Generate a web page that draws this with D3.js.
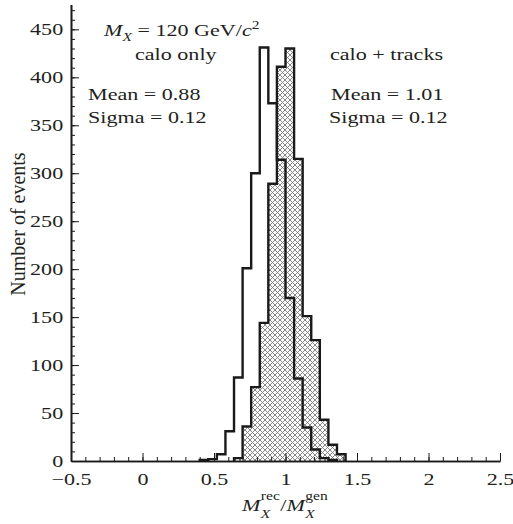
<!DOCTYPE html>
<html>
<head>
<meta charset="utf-8">
<script src="https://cdn.jsdelivr.net/npm/d3@7"></script>
<style>
  body { margin: 0; background: #fff; }
  svg { display: block; }
  text { font-family: "Liberation Serif", "Times New Roman", serif; fill: #231f20; }
</style>
</head>
<body>
<div id="chart"></div>
<script>
// data
const binStarts = [0.40, 0.46, 0.52, 0.58, 0.64, 0.70, 0.76, 0.82, 0.88, 0.94,
                   1.00, 1.06, 1.12, 1.18, 1.24, 1.30, 1.36];
const binWidth = 0.06;
const caloOnly   = [1, 2, 7, 31, 87, 201, 300, 431, 373, 314, 170, 86, 35, 12, 3, 1, 0];
const caloTracks = [0, 0, 0, 0, 3, 36, 77, 144, 289, 411, 430, 315, 151, 126, 43, 17, 7];
const xMajorTicks = [-0.5, 0, 0.5, 1, 1.5, 2, 2.5];
const yMajorTicks = [0, 50, 100, 150, 200, 250, 300, 350, 400, 450];
const labelsLeft  = ['calo only', 'Mean = 0.88', 'Sigma = 0.12'];
const labelsRight = ['calo + tracks', 'Mean = 1.01', 'Sigma = 0.12'];

// layout
const [width, height] = [513, 524];
const stretch = 1.3;   // the printed figure's glyphs are wide
const fontSize = 17;
const ink = '#1a1a1a';

const svg = d3.select('#chart').append('svg')
  .attr('width', width)
  .attr('height', height);

const defs = svg.append('defs');
const hatch = defs.append('pattern')
  .attr('id', 'hatch')
  .attr('patternUnits', 'userSpaceOnUse')
  .attr('width', 5)
  .attr('height', 5);
hatch.append('rect').attr('width', 5).attr('height', 5).attr('fill', '#fff');
hatch.append('path')
  .attr('d', 'M-1,-1L6,6M4,-1L6,1M-1,4L1,6M6,-1L-1,6M1,-1L-1,1M6,4L4,6')
  .attr('stroke', '#7a7a7a')
  .attr('stroke-width', 0.9);

const x = d3.scaleLinear().domain([-0.5, 2.5]).range([71, 500]);
const y = d3.scaleLinear().domain([0, 476]).range([461, 4.4]);

// histogram outline as a step path
const stepPoints = (values) => {
  let first = values.findIndex((v) => v > 0);
  let last = values.length - 1;
  while (values[last] === 0) last--;
  const pts = [[binStarts[first], 0]];
  for (let i = first; i <= last; i++) {
    pts.push([binStarts[i], values[i]]);
    pts.push([binStarts[i] + binWidth, values[i]]);
  }
  pts.push([binStarts[last] + binWidth, 0]);
  return pts;
};

const line = d3.line().x((d) => x(d[0])).y((d) => y(d[1]));

// calo + tracks: hatched
svg.append('path')
  .attr('d', line(stepPoints(caloTracks)) + 'Z')
  .attr('fill', 'url(#hatch)')
  .attr('stroke', 'none');
svg.append('path')
  .attr('d', line(stepPoints(caloTracks)))
  .attr('fill', 'none')
  .attr('stroke', ink)
  .attr('stroke-width', 2.4)
  .attr('stroke-linejoin', 'miter');

// calo only: open
svg.append('path')
  .attr('d', line(stepPoints(caloOnly)))
  .attr('fill', 'none')
  .attr('stroke', ink)
  .attr('stroke-width', 2.4)
  .attr('stroke-linejoin', 'miter');

// axes
const styleAxis = (g) => {
  g.select('.domain').attr('stroke', ink).attr('stroke-width', 1.6);
  g.selectAll('.tick line').attr('stroke', ink).attr('stroke-width', 1);
  g.selectAll('.tick text')
    .attr('font-family', '"Liberation Serif", serif')
    .attr('font-size', fontSize)
    .attr('fill', '#231f20');
};

// minor ticks
svg.append('g')
  .attr('transform', `translate(0,${y(0)})`)
  .call(d3.axisBottom(x).tickValues(d3.range(-5, 26).map((i) => i / 10))
    .tickSizeInner(-4).tickSizeOuter(0).tickFormat(''))
  .call(styleAxis);
svg.append('g')
  .attr('transform', `translate(${x(-0.5)},0)`)
  .call(d3.axisLeft(y).tickValues(d3.range(0, 471, 10))
    .tickSizeInner(-4).tickSizeOuter(0).tickFormat(''))
  .call(styleAxis);

// major ticks + labels
const xAxis = svg.append('g')
  .attr('transform', `translate(0,${y(0)})`)
  .call(d3.axisBottom(x).tickValues(xMajorTicks)
    .tickSizeInner(-8).tickSizeOuter(0).tickPadding(12)
    .tickFormat((d) => (d < 0 ? '\u2212' : '') + Math.abs(d)))
  .call(styleAxis);
xAxis.selectAll('.tick text').attr('transform', `scale(${stretch},1)`);

const yAxis = svg.append('g')
  .attr('transform', `translate(${x(-0.5)},0)`)
  .call(d3.axisLeft(y).tickValues(yMajorTicks)
    .tickSizeInner(-8).tickSizeOuter(0).tickPadding(6))
  .call(styleAxis);
yAxis.selectAll('.tick text').attr('transform', `scale(${stretch},1)`);

// stretched text helper
const addText = (px, py, anchor = 'start') => svg.append('text')
  .attr('transform', `translate(${px},${py}) scale(${stretch},1)`)
  .attr('text-anchor', anchor)
  .attr('font-size', fontSize);

// M_X = 120 GeV/c^2
const title = addText(104, 36);
title.append('tspan').attr('font-style', 'italic').text('M');
title.append('tspan').attr('font-style', 'italic').attr('font-size', 12).attr('dy', 4.5).text('X');
title.append('tspan').attr('dy', -4.5).text(' = 120 GeV/');
title.append('tspan').attr('font-style', 'italic').text('c');
title.append('tspan').attr('font-size', 12).attr('dy', -7).text('2');

// annotation blocks
addText(135, 60).text(labelsLeft[0]);
addText(88, 100).text(labelsLeft[1]);
addText(88, 123).text(labelsLeft[2]);
addText(330, 60).text(labelsRight[0]);
addText(331, 100).text(labelsRight[1]);
addText(329, 123).text(labelsRight[2]);

// x axis title: M_X^rec / M_X^gen
const xt = addText(242, 511);
xt.append('tspan').attr('x', 0).attr('y', 0).attr('font-style', 'italic').text('M');
xt.append('tspan').attr('x', 14.5).attr('y', -11).attr('font-size', 12).text('rec');
xt.append('tspan').attr('x', 14.5).attr('y', 7).attr('font-size', 12).attr('font-style', 'italic').text('X');
xt.append('tspan').attr('x', 29.5).attr('y', 0).text('/');
xt.append('tspan').attr('x', 34.2).attr('y', 0).attr('font-style', 'italic').text('M');
xt.append('tspan').attr('x', 48.7).attr('y', -11).attr('font-size', 12).text('gen');
xt.append('tspan').attr('x', 48.7).attr('y', 7).attr('font-size', 12).attr('font-style', 'italic').text('X');

// y axis title
svg.append('text')
  .attr('transform', 'translate(25,224) rotate(-90)')
  .attr('text-anchor', 'middle')
  .attr('font-size', 20)
  .text('Number of events');
</script>
</body>
</html>
